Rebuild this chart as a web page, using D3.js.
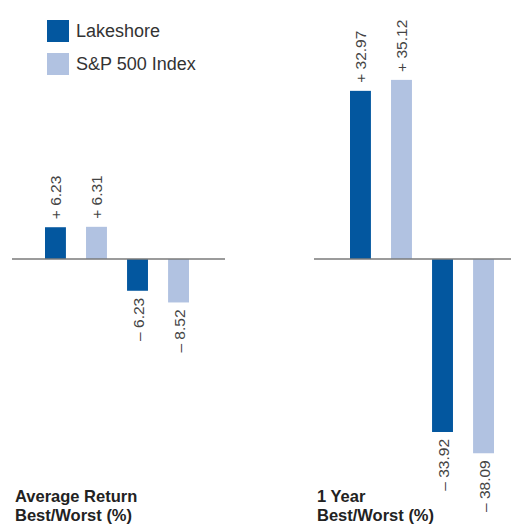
<!DOCTYPE html>
<html>
<head>
<meta charset="utf-8">
<script src="https://cdn.jsdelivr.net/npm/d3@7"></script>
<style>
  body { margin: 0; background: #fff; }
  text { font-family: "Liberation Sans", Arial, sans-serif; }
</style>
</head>
<body>
<svg id="chart" width="511" height="525"></svg>
<script>
// data
const series = ['Lakeshore', 'S&P 500 Index'];
const categories = ['Lakeshore Best', 'S&P Best', 'Lakeshore Worst', 'S&P Worst'];
const avgReturn = [6.23, 6.31, -6.23, -8.52];
const oneYear = [32.97, 35.12, -33.92, -38.09];
const panelTitles = [['Average Return', 'Best/Worst (%)'], ['1 Year', 'Best/Worst (%)']];

const colors = {
    'Lakeshore': '#03579f',
    'S&P 500 Index': '#b1c2e1'
};

const svg = d3.select('svg#chart');

// shared value scale, zero line at y=260
const y = d3.scaleLinear().domain([-40, 40]).range([463, 55]);

function fmt(v) {
    return (v >= 0 ? '+ ' : '\u2013 ') + d3.format('.2f')(Math.abs(v));
}

// each panel: where the zero line runs, where the bars go
const panels = [
    {values: avgReturn, line: [12, 225], bars: [45, 189], title: panelTitles[0], tx: 15},
    {values: oneYear, line: [314, 511], bars: [350, 494], title: panelTitles[1], tx: 317}
];

panels.forEach(p => {
    const x = d3.scaleBand()
        .domain(categories)
        .range(p.bars)
        .paddingInner(0.49)
        .paddingOuter(0);
    const g = svg.append('g');
    const rows = categories.map((c, i) => ({cat: c, value: p.values[i], series: series[i % 2]}));

    g.selectAll('rect')
        .data(rows)
        .enter()
        .append('rect')
        .attr('x', d => x(d.cat))
        .attr('width', x.bandwidth())
        .attr('y', d => y(Math.max(0, d.value)))
        .attr('height', d => Math.abs(y(d.value) - y(0)))
        .style('fill', d => colors[d.series]);

    g.append('line')
        .attr('x1', p.line[0]).attr('x2', p.line[1])
        .attr('y1', y(0)).attr('y2', y(0))
        .style('stroke', '#7a7a7a')
        .style('stroke-width', 1.5);

    // rotated value labels, reading bottom to top
    g.selectAll('text.val')
        .data(rows)
        .enter()
        .append('text')
        .attr('class', 'val')
        .attr('transform', d => {
            const cx = x(d.cat) + x.bandwidth() / 2 + 6;
            const cy = d.value >= 0 ? y(d.value) - 8 : y(d.value) + 7;
            return 'translate(' + cx + ',' + cy + ') rotate(-90)';
        })
        .attr('text-anchor', d => d.value >= 0 ? 'start' : 'end')
        .style('font-size', '15.5px')
        .style('fill', '#444')
        .text(d => fmt(d.value));

    g.selectAll('text.title')
        .data(p.title)
        .enter()
        .append('text')
        .attr('class', 'title')
        .attr('x', p.tx)
        .attr('y', (d, i) => 502 + i * 19)
        .style('font-size', '16.5px')
        .style('font-weight', 'bold')
        .style('fill', '#222')
        .text(d => d);
});

// legend
const legend = svg.append('g')
    .selectAll('g')
    .data(series)
    .enter()
    .append('g')
    .attr('transform', (d, i) => 'translate(47,' + (20 + i * 33) + ')');
legend.append('rect')
    .attr('width', 22)
    .attr('height', 22)
    .style('fill', d => colors[d]);
legend.append('text')
    .attr('x', 29)
    .attr('y', 17)
    .style('font-size', '18px')
    .style('fill', '#333')
    .text(d => d);
</script>
</body>
</html>
